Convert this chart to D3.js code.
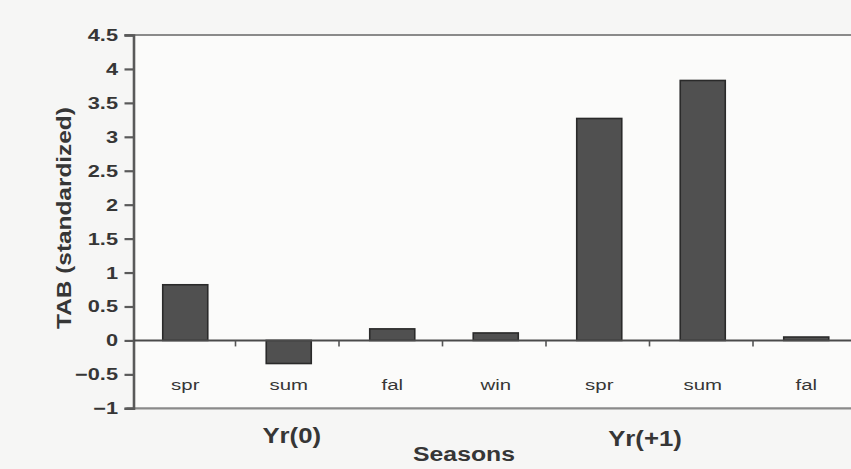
<!DOCTYPE html>
<html>
<head>
<meta charset="utf-8">
<script src="https://cdn.jsdelivr.net/npm/d3@7/dist/d3.min.js"></script>
<style>
  html, body { margin: 0; padding: 0; background: #f6f6f5; }
  svg { display: block; }
  text { font-family: "Liberation Sans", Arial, Helvetica, sans-serif; fill: #363636; }
</style>
</head>
<body>
<svg id="chart" width="851" height="469"></svg>
<script>
// Seasonal TAB anomalies (standardized) for year 0 and year +1
const seasons = ["spr", "sum", "fal", "win", "spr", "sum", "fal"];
const tabValues = [0.82, -0.34, 0.17, 0.11, 3.27, 3.83, 0.05];
const yearLabels = ["Yr(0)", "Yr(+1)"];
const yTicks = [-1, -0.5, 0, 0.5, 1, 1.5, 2, 2.5, 3, 3.5, 4, 4.5];
const yTickLabels = ["\u22121", "\u22120.5", "0", "0.5", "1", "1.5", "2", "2.5", "3", "3.5", "4", "4.5"];

(function () {
const svg = d3.select("#chart");
const W = 851, H = 469;
const plotLeft = 133.5, plotRight = 858, plotTop = 35, plotBottom = 408.3;

svg.append("rect").attr("width", W).attr("height", H).attr("fill", "#f6f6f5");
svg.append("rect").attr("x", plotLeft).attr("y", plotTop).attr("width", W - plotLeft)
  .attr("height", plotBottom - plotTop).attr("fill", "#fbfbfa");

const idx = seasons.map((_, i) => i);
const x = d3.scaleBand().domain(idx).range([plotLeft, plotRight]).paddingInner(0.565).paddingOuter(0.2825);
const y = d3.scaleLinear().domain([-1, 4.5]).range([plotBottom, plotTop]);
const step = x.step();

// horizontally stretched text helper
function label(g, str, px, py, size, sx, anchor, weight) {
  return g.append("text")
    .attr("transform", `translate(${px},${py}) scale(${sx},1)`)
    .attr("text-anchor", anchor)
    .attr("font-size", size)
    .attr("font-weight", weight)
    .text(str);
}

// frame lines at top (4.5) and bottom (-1)
svg.append("line").attr("x1", plotLeft - 9).attr("x2", W).attr("y1", y(4.5)).attr("y2", y(4.5))
  .attr("stroke", "#8a8a8a").attr("stroke-width", 2.2);
svg.append("line").attr("x1", plotLeft - 7).attr("x2", W).attr("y1", y(-1)).attr("y2", y(-1))
  .attr("stroke", "#8a8a8a").attr("stroke-width", 2.2);

// y axis
const yAxis = d3.axisLeft(y).tickValues(yTicks).tickSize(9).tickFormat("");
const yg = svg.append("g").attr("transform", `translate(${plotLeft},0)`).call(yAxis);
yg.select(".domain").attr("stroke", "#5a5a5a").attr("stroke-width", 2.6);
yg.selectAll(".tick line").attr("stroke", "#5a5a5a").attr("stroke-width", 2.2);

yTicks.forEach((v, i) => {
  label(svg, yTickLabels[i], 118, y(v) + 6, 16.5, 1.32, "end", "bold");
});

// bars
svg.append("g").selectAll("rect").data(tabValues).join("rect")
  .attr("x", (d, i) => x(i))
  .attr("width", x.bandwidth())
  .attr("y", d => y(Math.max(0, d)))
  .attr("height", d => Math.abs(y(d) - y(0)))
  .attr("fill", "#505050")
  .attr("stroke", "#2a2a2a")
  .attr("stroke-width", 1.6);

// zero line with small ticks between seasons
svg.append("line").attr("x1", plotLeft).attr("x2", W).attr("y1", y(0)).attr("y2", y(0))
  .attr("stroke", "#4a4a4a").attr("stroke-width", 2);
svg.append("g").selectAll("line").data(idx.slice(1)).join("line")
  .attr("x1", i => x(i) - step * 0.2825 - 1.5)
  .attr("x2", i => x(i) - step * 0.2825 - 1.5)
  .attr("y1", y(0)).attr("y2", y(0) + 6)
  .attr("stroke", "#555").attr("stroke-width", 1.6);

// season labels
seasons.forEach((s, i) => {
  label(svg, s, x(i) + x.bandwidth() / 2, y(0) + 50, 15, 1.36, "middle", "normal");
});

// year group labels
label(svg, yearLabels[0], x(1) + x.bandwidth() / 2 + 3, 443, 22, 1.17, "middle", "bold");
label(svg, yearLabels[1], (x(4) + x(5) + x.bandwidth()) / 2 - 6, 446, 22, 1.17, "middle", "bold");

// axis titles
label(svg, "Seasons", 464, 461, 21, 1.18, "middle", "bold");
svg.append("text")
  .attr("transform", `translate(71,218) rotate(-90) scale(1.22,1)`)
  .attr("text-anchor", "middle")
  .attr("font-size", 20)
  .attr("font-weight", "bold")
  .text("TAB (standardized)");
})();
</script>
</body>
</html>
